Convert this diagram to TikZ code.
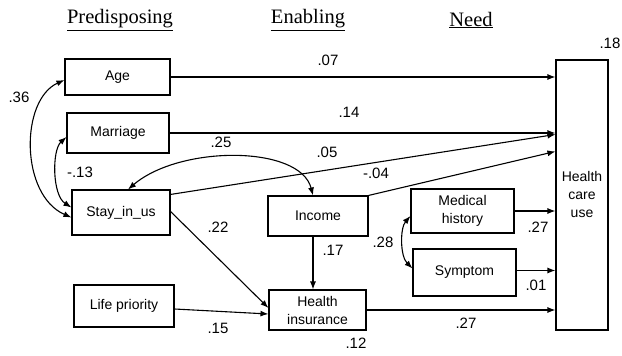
\documentclass[tikz,border=0pt]{standalone}
\usepackage{fontspec}
\setmainfont{Liberation Serif}
\newfontfamily\boxfont{Liberation Sans}
\usetikzlibrary{arrows.meta,calc}
\begin{document}
\begin{tikzpicture}[x=1pt,y=-1pt,
  vbox/.style={draw,line width=1.1pt,inner sep=0pt,align=center,
    font=\boxfont\fontsize{14}{18}\selectfont},
  vtext/.style={inner sep=0pt,align=center,font=\boxfont\fontsize{14}{18}\selectfont},
  arr/.style={line width=1.1pt,-{Latex[length=8pt,width=6pt]}},
  darr/.style={line width=1.1pt,{Latex[length=8pt,width=6pt]}-{Latex[length=8pt,width=6pt]}},
  num/.style={font=\boxfont\fontsize{15}{15}\selectfont,inner sep=0pt},
  head/.style={font=\fontsize{20.5}{21}\selectfont,inner sep=0pt}]
\useasboundingbox (0,0) rectangle (622,356);
% headers
\node[head] (h1) at (120,20) {\underline{Predisposing}};
\node[head] (h2) at (308,20) {\underline{Enabling}};
\node[head] (h3) at (471,20) {\underline{Need}};
% boxes
\node[vbox,minimum width=105pt,minimum height=36pt] (age) at (117.5,77) {Age};
\node[vbox,minimum width=102pt,minimum height=40pt] (mar) at (118,133) {Marriage};
\node[vbox,minimum width=98pt,minimum height=45pt] (stay) at (121,212.5) {Stay\_in\_us};
\node[vbox,minimum width=100pt,minimum height=42pt] (life) at (124,306) {Life priority};
\node[vbox,minimum width=100pt,minimum height=40pt] (inc) at (318,216) {Income};
\node[vbox,minimum width=97pt,minimum height=40pt] (hi) at (317.5,310) {Health\\insurance};
\node[vbox,minimum width=103pt,minimum height=44pt] (mh) at (462.5,211) {Medical\\history};
\node[vbox,minimum width=103pt,minimum height=47pt] (sym) at (464.5,272.5) {Symptom};
\node[vbox,minimum width=52pt,minimum height=270pt] (hcu) at (582,195) {};
\node[vtext] (hcut) at (582,194) {Health\\care\\use};
% straight paths
\draw[arr] (age.east) -- (age.east -| hcu.west);
\draw[arr] (mar.east) -- (mar.east -| hcu.west);
\draw[arr] ([yshift=-5pt]stay.north east) -- ($(hcu.north west)+(0,75)$);
\draw[arr] (inc.north east) -- ($(hcu.north west)+(0,92)$);
\draw[arr] ([yshift=1pt]stay.east) -- ([yshift=2pt]hi.west);
\draw[arr] ([yshift=-3pt]life.east) -- ([yshift=-4pt]hi.west);
\draw[arr] ([xshift=-5pt]inc.south) -- ([xshift=-5pt]inc.south |- hi.north);
\draw[arr] (mh.east) -- (mh.east -| hcu.west);
\draw[arr] ([yshift=2pt]sym.east) -- ([yshift=2pt]sym.east -| hcu.west);
\draw[arr] (hi.east) -- (hi.east -| hcu.west);
% correlations
\draw[darr] ([yshift=-3pt]age.west) .. controls (20,100) and (20,195) .. ([yshift=-5pt]stay.west);
\draw[darr] ([yshift=-4pt]mar.west) .. controls (52,150) and (52,195) .. ([yshift=5pt]stay.west);
\draw[darr] ([xshift=7pt]stay.north) .. controls (180,145) and (300,145) .. ([xshift=-5pt]inc.north);
\draw[darr] ([yshift=-5pt]mh.west) .. controls (400,228) and (400,256) .. ([yshift=4pt]sym.west);
% numbers
\node[num] (n36) at (19,97) {.36};
\node[num] (n07) at (328,60) {.07};
\node[num] (n14) at (349,112) {.14};
\node[num] (n25) at (221,142) {.25};
\node[num] (n05) at (327,152) {.05};
\node[num] (n13) at (80,172) {-.13};
\node[num] (n04) at (376,173) {-.04};
\node[num] (n22) at (218,227) {.22};
\node[num] (n17) at (333,250) {.17};
\node[num] (n28) at (383,242) {.28};
\node[num] (n27a) at (538,227) {.27};
\node[num] (n01) at (536,285) {.01};
\node[num] (n15) at (218,328) {.15};
\node[num] (n27b) at (466,323) {.27};
\node[num] (n12) at (356,343) {.12};
\node[num] (n18) at (610,43) {.18};
\end{tikzpicture}
\end{document}
